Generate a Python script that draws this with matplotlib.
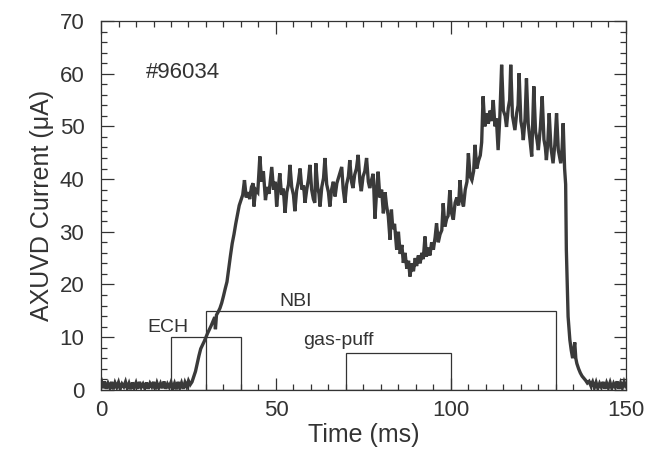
# %% Imports

import matplotlib.pyplot as plt
from matplotlib.patches import Rectangle
from matplotlib.ticker import MultipleLocator

# %% Data (time in ms, AXUVD current in uA)

time_ms = [
    0, 0.5, 1, 1.5, 2, 2.5, 3, 3.5, 4, 4.5, 5, 5.5, 6, 6.5, 7, 7.5, 8, 8.5, 9, 9.5,
    10, 10.5, 11, 11.5, 12, 12.5, 13, 13.5, 14, 14.5, 15, 15.5, 16, 16.5, 17, 17.5,
    18, 18.5, 19, 19.5, 20, 20.5, 21, 21.5, 22, 22.5, 23, 23.5, 24, 24.5, 25,
    25.5, 26, 26.5, 27, 27.5, 28, 28.5, 29, 29.5, 30, 30.5, 31, 31.5, 32, 32.5, 32.7,
    33, 33.5, 34, 34.5, 35, 35.5, 36, 36.5, 37, 37.5, 38, 38.5, 39, 39.5, 40, 40.5,
    41, 41.5, 42, 42.5, 43, 43.5, 43.7, 44.2, 44.8,
    45.4, 45.9, 46.4, 47.0, 47.5, 48.0, 48.8, 49.3, 49.8, 50.2, 50.7, 51.1, 51.6,
    52.1, 52.6, 53.1, 53.6, 54.0, 54.5, 55.0, 55.4, 55.9, 56.4, 56.9, 57.4, 57.9,
    58.3, 58.8, 59.3, 59.7, 60.2, 60.7, 61.1, 61.4, 61.9, 62.3, 62.6, 63.1, 63.6,
    64.0, 64.5, 65.0, 65.4, 65.9, 66.4, 66.9, 67.4, 68.0, 68.8, 69.2, 69.7, 70.2,
    70.7, 71.1, 71.6, 72.0, 72.5, 73.0, 73.5, 74.0, 74.4, 74.9, 75.4, 75.9, 76.4,
    76.8, 77.3, 77.8, 78.3, 78.8,
    79.2, 79.7, 80.2, 80.7, 81.2, 81.6, 82.1, 82.6, 83.0, 83.4, 83.9, 84.5, 85.0,
    85.5, 86.0, 86.4, 86.9, 87.4, 87.9, 88.3, 88.8, 89.3, 89.8, 90.2, 90.7, 91.2,
    91.7, 92.1, 92.6, 93.0, 93.5, 94.0, 94.5, 95.0, 95.5, 95.9, 96.4, 96.9, 97.4,
    97.8, 98.3, 98.8, 99.2, 99.7, 100.2, 100.7, 101.2, 101.7, 102.2, 102.6, 103.1,
    103.6, 104.1, 104.6, 105.0, 105.5, 106.0, 106.5, 106.9, 107.4, 107.9, 108.4, 108.8,
    109.2, 109.7, 110.2, 110.7, 111.2, 111.6, 112.1, 112.6, 113.0, 113.5, 114.0,
    114.5, 115.0, 115.5, 115.9, 116.4, 116.8, 117.1, 117.6, 118.0, 118.3, 118.8,
    119.2, 119.5, 120.0, 120.4, 120.7, 121.2, 121.6, 122.1, 122.6, 123.1, 123.7,
    124.2, 124.6, 125.0, 125.6, 126.1, 126.6, 127.0, 127.3, 127.7, 128.1, 128.6,
    129.2, 129.7, 130.2, 130.7, 131.4, 131.8, 132.1, 132.5,
    132.8, 133.0, 133.5, 134.0, 134.4, 134.8, 135.2, 135.4, 135.7, 136.0, 136.5,
    137.0, 137.5, 138.0, 138.5, 139.0, 139.5, 140.0, 140.5,
    141, 141.5, 142, 142.5, 143, 143.5, 144, 144.5, 145, 145.5, 146, 146.5, 147,
    147.5, 148, 148.5, 149, 149.5, 150,
]

current_uA = [
    2.0, 0.3, 1.6, 0.2, 1.2, 0.4, 1.5, 0.1, 1.3, 0.5, 1.4, 0.2, 1.1, 0.6, 1.5, 0.3, 1.2, 0.1, 1.4, 0.4,
    1.3, 0.2, 1.5, 0.5, 1.1, 0.3, 1.4, 0.2, 1.2, 0.6, 1.5, 0.1, 1.3, 0.4, 1.2, 0.3,
    1.6, 0.2, 1.1, 0.5, 1.4, 0.3, 1.2, 0.1, 1.5, 0.4, 1.3, 0.2, 1.4, 0.6, 1.7,
    1.0, 1.5, 2.5, 3.5, 5.0, 6.5, 7.8, 8.5, 9.2, 10.0, 10.8, 11.5, 12.2, 13.0, 13.8, 11.5,
    14.2, 14.8, 15.5, 16.5, 17.8, 19.2, 20.5, 23.0, 25.5, 27.8, 29.5, 31.5, 33.2, 35.0, 36.0, 37.0,
    39.8, 36.5, 37.5, 36.2, 38.5, 39.2, 34.8, 38.0, 37.5,
    44.3, 39.5, 41.5, 36.0, 38.5, 37.2, 42.3, 38.0, 39.5, 34.8, 38.5, 41.1, 37.0,
    38.2, 33.6, 37.5, 39.0, 42.7, 38.5, 37.0, 33.9, 37.8, 39.5, 42.0, 38.0, 38.8,
    35.5, 38.0, 40.0, 42.7, 38.0, 36.2, 35.5, 43.0, 38.5, 37.2, 34.8, 38.5, 40.2,
    44.0, 39.0, 37.5, 34.8, 38.0, 39.5, 36.7, 39.2, 40.5, 42.3, 38.2, 35.5, 39.0,
    40.5, 43.6, 39.5, 38.3, 40.8, 42.0, 44.6, 39.5, 37.7, 40.5, 41.5, 44.0, 39.5,
    38.3, 39.8, 41.0, 32.5, 38.0,
    41.4, 36.5, 38.0, 33.5, 37.5, 35.0, 33.0, 28.5, 34.2, 30.5, 31.5, 26.6, 30.0,
    25.8, 27.5, 24.1, 26.0, 23.0, 24.5, 21.5, 24.0, 22.5, 25.0, 23.5, 25.5, 24.0,
    26.0, 24.8, 29.1, 25.3, 27.0, 25.5, 28.0, 26.6, 29.0, 31.6, 28.0, 29.5, 30.3,
    35.4, 31.0, 32.5, 33.0, 37.9, 33.5, 32.3, 35.5, 36.5, 35.0, 39.8, 36.0,
    34.8, 38.0, 39.5, 44.9, 40.5, 39.8, 41.5, 46.5, 42.0, 43.5, 44.5, 47.0,
    55.7, 50.0, 52.5, 50.5, 53.0, 51.0, 55.0, 50.0, 51.5, 45.5, 52.0,
    61.7, 53.0, 52.0, 49.9, 53.5, 55.0, 61.7, 52.0, 50.5, 49.3, 52.5,
    54.0, 60.1, 51.0, 49.5, 47.4, 51.5, 59.1, 50.5, 47.5, 44.3, 57.6,
    49.0, 47.5, 45.5, 50.0, 55.7, 47.5, 46.0, 43.6, 47.0, 52.5, 46.0,
    43.0, 46.5, 52.5, 45.5, 43.0, 46.0, 50.6, 42.0,
    39.0, 26.6, 13.9, 9.5, 7.5, 6.0, 8.0, 9.0, 6.0, 5.0, 4.0,
    3.2, 2.6, 2.2, 1.8, 1.3, 1.6, 0.8, 1.5,
    0.4, 1.4, 0.3, 1.2, 0.5, 1.5, 0.2, 1.3, 0.4, 1.4, 0.3, 1.2, 0.5,
    1.6, 0.2, 1.3, 0.4, 1.5, 0.6,
]

# Heating / fuelling windows: (start ms, end ms, box height)
ech_window = (20, 40, 10)
nbi_window = (30, 130, 15)
gas_puff_window = (70, 100, 7)

shot_label = '#96034'

# %% Plot

plt.rcParams['font.family'] = ['Liberation Sans', 'DejaVu Sans']
ink = '#333333'

fig = plt.figure(figsize=(6.56, 4.57), dpi=100)
ax = fig.add_axes([0.154, 0.147, 0.80, 0.807])

ax.plot(time_ms, current_uA, color='#3a3a3a', lw=2.4, solid_joinstyle='miter')

for start, end, height in [ech_window, nbi_window, gas_puff_window]:
    ax.add_patch(Rectangle((start, 0), end - start, height, fill=False,
                           edgecolor=ink, lw=0.9))

ax.text(19, 11.0, 'ECH', fontsize=14, color=ink, ha='center', va='baseline')
ax.text(55.7, 15.9, 'NBI', fontsize=14, color=ink, ha='center', va='baseline')
ax.text(67.9, 8.5, 'gas-puff', fontsize=14, color=ink, ha='center', va='baseline')
ax.text(23.3, 59.2, shot_label, fontsize=16, color=ink, ha='center', va='baseline')

ax.set_xlim(0, 150)
ax.set_ylim(0, 70)
ax.xaxis.set_major_locator(MultipleLocator(50))
ax.xaxis.set_minor_locator(MultipleLocator(5))
ax.yaxis.set_major_locator(MultipleLocator(10))
ax.yaxis.set_minor_locator(MultipleLocator(2))
ax.tick_params(which='both', direction='in', top=True, right=True, colors=ink,
               labelsize=16, width=0.9)
ax.tick_params(which='major', length=9)
ax.tick_params(which='minor', length=4.5)
ax.tick_params(axis='x', pad=7)
ax.tick_params(axis='y', pad=12)
for side in ax.spines.values():
    side.set_color(ink)
    side.set_linewidth(0.9)

ax.set_xlabel('Time (ms)', fontsize=18, color=ink, labelpad=2)
ax.set_ylabel('AXUVD Current (\u03bcA)', fontsize=18, color=ink, labelpad=4)

plt.savefig('out.png', dpi=100, facecolor='white')
